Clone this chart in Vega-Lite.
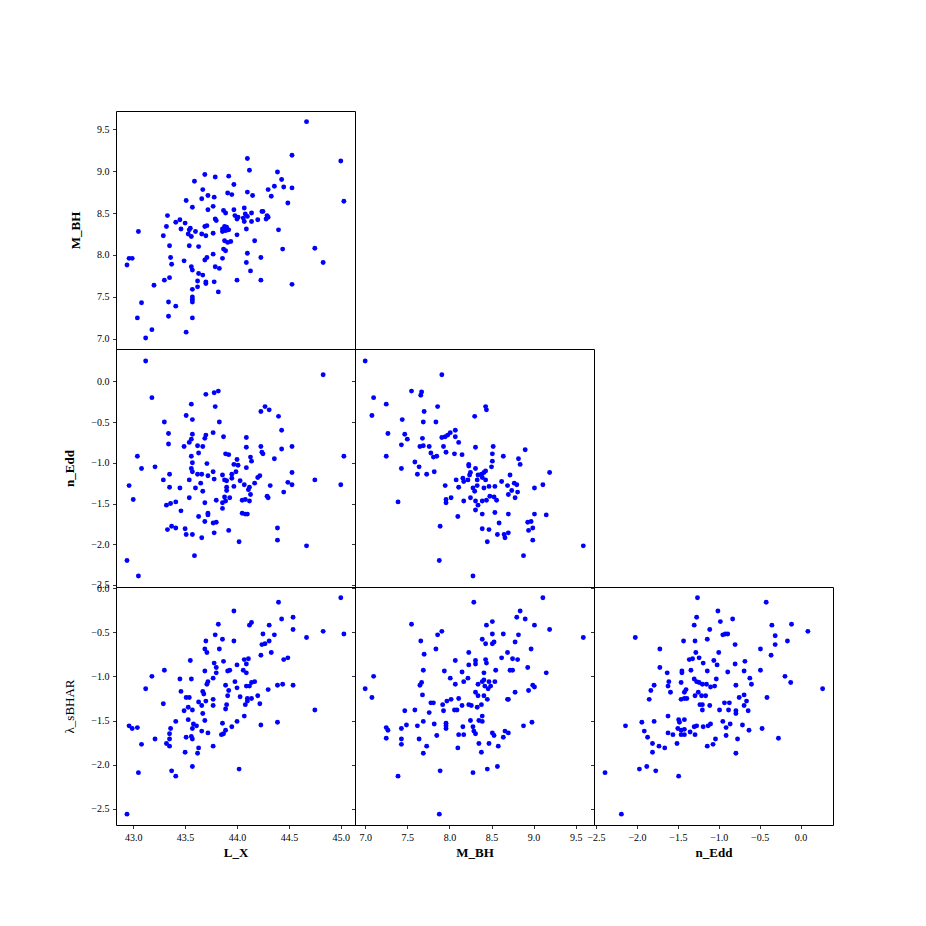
{
"$schema": "https://vega.github.io/schema/vega-lite/v6.json",
"background": "white",
"padding": {"left": 63, "top": 110, "right": 5, "bottom": 5},
"autosize": {"type": "pad"},
"spacing": 0,
"bounds": "flush",
"columns": 3,
"config": {
  "view": {"stroke": "black", "strokeWidth": 1},
  "concat": {"spacing": 0},
  "axis": {"labelFont": "Liberation Serif", "labelFontSize": 10, "labelColor": "black", "tickColor": "black", "tickSize": 3.5, "tickWidth": 0.8, "labelPadding": 3.5, "domain": false, "grid": false, "titleFont": "Liberation Serif", "titleFontSize": 13, "titleFontWeight": "bold", "titleColor": "black", "labelFlush": false, "labelOverlap": false, "labelBound": false, "format": ".1f"},
  "axisY": {"titlePadding": 14},
  "axisX": {"titlePadding": 4},
  "circle": {"color": "#0000ff", "size": 24, "opacity": 1}
},
"datasets": {
"lx_mbh": [{"L_X":44.67,"M_BH":9.59},{"L_X":44.53,"M_BH":9.19},{"L_X":45.0,"M_BH":9.12},{"L_X":45.03,"M_BH":8.64},{"L_X":44.1,"M_BH":9.15},{"L_X":44.12,"M_BH":9.01},{"L_X":44.39,"M_BH":8.99},{"L_X":44.43,"M_BH":8.9},{"L_X":44.45,"M_BH":8.81},{"L_X":44.53,"M_BH":8.8},{"L_X":44.36,"M_BH":8.82},{"L_X":44.3,"M_BH":8.78},{"L_X":44.33,"M_BH":8.7},{"L_X":44.49,"M_BH":8.62},{"L_X":43.69,"M_BH":8.96},{"L_X":43.79,"M_BH":8.93},{"L_X":43.92,"M_BH":8.94},{"L_X":43.97,"M_BH":8.84},{"L_X":43.59,"M_BH":8.88},{"L_X":43.67,"M_BH":8.78},{"L_X":43.91,"M_BH":8.74},{"L_X":43.95,"M_BH":8.72},{"L_X":44.1,"M_BH":8.75},{"L_X":44.15,"M_BH":8.71},{"L_X":43.72,"M_BH":8.71},{"L_X":43.78,"M_BH":8.69},{"L_X":43.66,"M_BH":8.67},{"L_X":43.51,"M_BH":8.65},{"L_X":43.57,"M_BH":8.57},{"L_X":43.77,"M_BH":8.58},{"L_X":43.72,"M_BH":8.54},{"L_X":43.33,"M_BH":8.47},{"L_X":43.87,"M_BH":8.53},{"L_X":43.89,"M_BH":8.5},{"L_X":43.97,"M_BH":8.54},{"L_X":44.07,"M_BH":8.56},{"L_X":44.14,"M_BH":8.5},{"L_X":44.24,"M_BH":8.52},{"L_X":44.25,"M_BH":8.52},{"L_X":44.29,"M_BH":8.47},{"L_X":44.3,"M_BH":8.45},{"L_X":44.28,"M_BH":8.43},{"L_X":44.2,"M_BH":8.42},{"L_X":44.14,"M_BH":8.4},{"L_X":44.1,"M_BH":8.46},{"L_X":44.08,"M_BH":8.49},{"L_X":44.06,"M_BH":8.44},{"L_X":44.01,"M_BH":8.45},{"L_X":43.98,"M_BH":8.47},{"L_X":44.0,"M_BH":8.43},{"L_X":44.07,"M_BH":8.4},{"L_X":43.79,"M_BH":8.43},{"L_X":43.8,"M_BH":8.41},{"L_X":43.45,"M_BH":8.42},{"L_X":43.41,"M_BH":8.39},{"L_X":43.5,"M_BH":8.38},{"L_X":43.32,"M_BH":8.34},{"L_X":43.46,"M_BH":8.31},{"L_X":43.55,"M_BH":8.32},{"L_X":43.54,"M_BH":8.3},{"L_X":43.69,"M_BH":8.34},{"L_X":43.71,"M_BH":8.35},{"L_X":43.6,"M_BH":8.28},{"L_X":43.05,"M_BH":8.28},{"L_X":43.29,"M_BH":8.23},{"L_X":43.53,"M_BH":8.25},{"L_X":43.56,"M_BH":8.22},{"L_X":43.66,"M_BH":8.25},{"L_X":43.7,"M_BH":8.23},{"L_X":43.77,"M_BH":8.26},{"L_X":43.86,"M_BH":8.31},{"L_X":43.88,"M_BH":8.34},{"L_X":43.9,"M_BH":8.33},{"L_X":43.92,"M_BH":8.3},{"L_X":43.89,"M_BH":8.29},{"L_X":43.86,"M_BH":8.28},{"L_X":44.09,"M_BH":8.31},{"L_X":44.0,"M_BH":8.24},{"L_X":44.4,"M_BH":8.3},{"L_X":43.88,"M_BH":8.17},{"L_X":43.91,"M_BH":8.15},{"L_X":43.94,"M_BH":8.16},{"L_X":44.17,"M_BH":8.17},{"L_X":43.35,"M_BH":8.11},{"L_X":43.54,"M_BH":8.11},{"L_X":43.63,"M_BH":8.1},{"L_X":43.87,"M_BH":8.07},{"L_X":43.89,"M_BH":8.05},{"L_X":44.44,"M_BH":8.07},{"L_X":44.75,"M_BH":8.08},{"L_X":44.1,"M_BH":8.02},{"L_X":43.77,"M_BH":8.01},{"L_X":43.36,"M_BH":7.97},{"L_X":43.71,"M_BH":7.97},{"L_X":43.69,"M_BH":7.94},{"L_X":43.86,"M_BH":7.96},{"L_X":44.23,"M_BH":7.97},{"L_X":42.96,"M_BH":7.96},{"L_X":42.99,"M_BH":7.96},{"L_X":42.94,"M_BH":7.88},{"L_X":43.37,"M_BH":7.89},{"L_X":43.49,"M_BH":7.93},{"L_X":44.83,"M_BH":7.91},{"L_X":44.09,"M_BH":7.91},{"L_X":43.56,"M_BH":7.86},{"L_X":43.57,"M_BH":7.82},{"L_X":43.79,"M_BH":7.86},{"L_X":43.83,"M_BH":7.84},{"L_X":44.13,"M_BH":7.81},{"L_X":43.63,"M_BH":7.78},{"L_X":43.67,"M_BH":7.76},{"L_X":43.35,"M_BH":7.73},{"L_X":43.3,"M_BH":7.7},{"L_X":43.62,"M_BH":7.69},{"L_X":43.7,"M_BH":7.68},{"L_X":43.7,"M_BH":7.66},{"L_X":43.78,"M_BH":7.68},{"L_X":44.0,"M_BH":7.7},{"L_X":44.23,"M_BH":7.7},{"L_X":44.53,"M_BH":7.65},{"L_X":43.2,"M_BH":7.64},{"L_X":43.62,"M_BH":7.62},{"L_X":43.57,"M_BH":7.59},{"L_X":43.82,"M_BH":7.56},{"L_X":43.57,"M_BH":7.5},{"L_X":43.57,"M_BH":7.47},{"L_X":43.57,"M_BH":7.44},{"L_X":43.08,"M_BH":7.43},{"L_X":43.34,"M_BH":7.44},{"L_X":43.41,"M_BH":7.39},{"L_X":43.34,"M_BH":7.27},{"L_X":43.04,"M_BH":7.25},{"L_X":43.57,"M_BH":7.25},{"L_X":43.18,"M_BH":7.11},{"L_X":43.51,"M_BH":7.08},{"L_X":43.12,"M_BH":7.01}],
"lx_nedd": [{"L_X":43.12,"n_Edd":0.25},{"L_X":44.83,"n_Edd":0.08},{"L_X":43.18,"n_Edd":-0.2},{"L_X":43.7,"n_Edd":-0.16},{"L_X":43.78,"n_Edd":-0.14},{"L_X":43.82,"n_Edd":-0.12},{"L_X":43.56,"n_Edd":-0.28},{"L_X":43.79,"n_Edd":-0.31},{"L_X":44.27,"n_Edd":-0.31},{"L_X":44.31,"n_Edd":-0.35},{"L_X":44.23,"n_Edd":-0.37},{"L_X":43.51,"n_Edd":-0.42},{"L_X":43.57,"n_Edd":-0.47},{"L_X":44.4,"n_Edd":-0.43},{"L_X":43.3,"n_Edd":-0.5},{"L_X":43.83,"n_Edd":-0.5},{"L_X":44.43,"n_Edd":-0.6},{"L_X":43.34,"n_Edd":-0.64},{"L_X":43.57,"n_Edd":-0.65},{"L_X":43.7,"n_Edd":-0.66},{"L_X":43.69,"n_Edd":-0.7},{"L_X":43.77,"n_Edd":-0.63},{"L_X":43.87,"n_Edd":-0.68},{"L_X":44.09,"n_Edd":-0.69},{"L_X":43.56,"n_Edd":-0.71},{"L_X":43.54,"n_Edd":-0.75},{"L_X":43.34,"n_Edd":-0.77},{"L_X":43.49,"n_Edd":-0.8},{"L_X":43.62,"n_Edd":-0.79},{"L_X":43.67,"n_Edd":-0.8},{"L_X":44.09,"n_Edd":-0.81},{"L_X":44.23,"n_Edd":-0.8},{"L_X":44.43,"n_Edd":-0.83},{"L_X":44.53,"n_Edd":-0.8},{"L_X":43.63,"n_Edd":-0.88},{"L_X":44.24,"n_Edd":-0.87},{"L_X":44.25,"n_Edd":-0.89},{"L_X":43.89,"n_Edd":-0.89},{"L_X":43.92,"n_Edd":-0.9},{"L_X":43.56,"n_Edd":-0.92},{"L_X":43.04,"n_Edd":-0.92},{"L_X":44.13,"n_Edd":-0.93},{"L_X":44.14,"n_Edd":-0.98},{"L_X":44.0,"n_Edd":-0.96},{"L_X":44.36,"n_Edd":-0.95},{"L_X":45.03,"n_Edd":-0.92},{"L_X":43.57,"n_Edd":-1.0},{"L_X":43.71,"n_Edd":-1.01},{"L_X":43.97,"n_Edd":-1.02},{"L_X":44.01,"n_Edd":-1.03},{"L_X":43.08,"n_Edd":-1.07},{"L_X":43.21,"n_Edd":-1.05},{"L_X":43.56,"n_Edd":-1.07},{"L_X":44.09,"n_Edd":-1.06},{"L_X":43.57,"n_Edd":-1.11},{"L_X":43.62,"n_Edd":-1.14},{"L_X":43.66,"n_Edd":-1.14},{"L_X":43.72,"n_Edd":-1.16},{"L_X":43.77,"n_Edd":-1.11},{"L_X":43.86,"n_Edd":-1.15},{"L_X":43.95,"n_Edd":-1.14},{"L_X":43.99,"n_Edd":-1.11},{"L_X":44.2,"n_Edd":-1.18},{"L_X":44.22,"n_Edd":-1.16},{"L_X":44.53,"n_Edd":-1.12},{"L_X":43.29,"n_Edd":-1.21},{"L_X":43.35,"n_Edd":-1.14},{"L_X":43.78,"n_Edd":-1.2},{"L_X":43.88,"n_Edd":-1.21},{"L_X":43.9,"n_Edd":-1.22},{"L_X":43.95,"n_Edd":-1.19},{"L_X":44.03,"n_Edd":-1.22},{"L_X":43.54,"n_Edd":-1.21},{"L_X":43.65,"n_Edd":-1.25},{"L_X":42.96,"n_Edd":-1.28},{"L_X":44.75,"n_Edd":-1.21},{"L_X":45.0,"n_Edd":-1.27},{"L_X":44.53,"n_Edd":-1.27},{"L_X":44.49,"n_Edd":-1.24},{"L_X":43.35,"n_Edd":-1.3},{"L_X":43.45,"n_Edd":-1.31},{"L_X":43.6,"n_Edd":-1.31},{"L_X":43.9,"n_Edd":-1.3},{"L_X":43.97,"n_Edd":-1.29},{"L_X":44.07,"n_Edd":-1.27},{"L_X":44.17,"n_Edd":-1.25},{"L_X":44.32,"n_Edd":-1.28},{"L_X":44.12,"n_Edd":-1.3},{"L_X":44.11,"n_Edd":-1.33},{"L_X":43.9,"n_Edd":-1.34},{"L_X":43.67,"n_Edd":-1.35},{"L_X":44.45,"n_Edd":-1.36},{"L_X":43.0,"n_Edd":-1.45},{"L_X":43.54,"n_Edd":-1.43},{"L_X":43.69,"n_Edd":-1.49},{"L_X":43.8,"n_Edd":-1.46},{"L_X":43.88,"n_Edd":-1.42},{"L_X":43.93,"n_Edd":-1.43},{"L_X":43.86,"n_Edd":-1.49},{"L_X":43.89,"n_Edd":-1.47},{"L_X":44.05,"n_Edd":-1.46},{"L_X":44.08,"n_Edd":-1.45},{"L_X":44.12,"n_Edd":-1.47},{"L_X":44.13,"n_Edd":-1.39},{"L_X":44.29,"n_Edd":-1.41},{"L_X":44.3,"n_Edd":-1.43},{"L_X":43.41,"n_Edd":-1.48},{"L_X":43.36,"n_Edd":-1.5},{"L_X":43.32,"n_Edd":-1.52},{"L_X":43.86,"n_Edd":-1.56},{"L_X":43.46,"n_Edd":-1.59},{"L_X":43.63,"n_Edd":-1.66},{"L_X":43.72,"n_Edd":-1.62},{"L_X":43.72,"n_Edd":-1.64},{"L_X":44.05,"n_Edd":-1.62},{"L_X":44.08,"n_Edd":-1.63},{"L_X":44.1,"n_Edd":-1.63},{"L_X":43.69,"n_Edd":-1.72},{"L_X":43.77,"n_Edd":-1.74},{"L_X":43.8,"n_Edd":-1.73},{"L_X":43.37,"n_Edd":-1.78},{"L_X":43.41,"n_Edd":-1.8},{"L_X":43.33,"n_Edd":-1.82},{"L_X":43.5,"n_Edd":-1.81},{"L_X":43.51,"n_Edd":-1.88},{"L_X":43.57,"n_Edd":-1.88},{"L_X":43.66,"n_Edd":-1.92},{"L_X":43.78,"n_Edd":-1.86},{"L_X":43.92,"n_Edd":-1.83},{"L_X":44.02,"n_Edd":-1.97},{"L_X":44.39,"n_Edd":-1.8},{"L_X":44.39,"n_Edd":-1.95},{"L_X":44.67,"n_Edd":-2.02},{"L_X":43.59,"n_Edd":-2.14},{"L_X":42.94,"n_Edd":-2.2},{"L_X":43.05,"n_Edd":-2.39}],
"mbh_nedd": [{"M_BH":7.0,"n_Edd":0.25},{"M_BH":7.91,"n_Edd":0.08},{"M_BH":7.1,"n_Edd":-0.2},{"M_BH":7.55,"n_Edd":-0.12},{"M_BH":7.67,"n_Edd":-0.13},{"M_BH":7.66,"n_Edd":-0.17},{"M_BH":7.25,"n_Edd":-0.28},{"M_BH":7.86,"n_Edd":-0.31},{"M_BH":8.43,"n_Edd":-0.31},{"M_BH":8.44,"n_Edd":-0.35},{"M_BH":7.08,"n_Edd":-0.42},{"M_BH":8.3,"n_Edd":-0.43},{"M_BH":7.7,"n_Edd":-0.37},{"M_BH":7.44,"n_Edd":-0.47},{"M_BH":7.69,"n_Edd":-0.5},{"M_BH":7.84,"n_Edd":-0.5},{"M_BH":7.27,"n_Edd":-0.64},{"M_BH":7.47,"n_Edd":-0.65},{"M_BH":7.5,"n_Edd":-0.71},{"M_BH":7.68,"n_Edd":-0.7},{"M_BH":7.43,"n_Edd":-0.78},{"M_BH":7.65,"n_Edd":-0.8},{"M_BH":7.69,"n_Edd":-0.79},{"M_BH":7.76,"n_Edd":-0.8},{"M_BH":7.91,"n_Edd":-0.69},{"M_BH":7.95,"n_Edd":-0.68},{"M_BH":7.98,"n_Edd":-0.66},{"M_BH":8.01,"n_Edd":-0.63},{"M_BH":8.07,"n_Edd":-0.6},{"M_BH":8.07,"n_Edd":-0.68},{"M_BH":8.11,"n_Edd":-0.75},{"M_BH":7.93,"n_Edd":-0.8},{"M_BH":7.96,"n_Edd":-0.87},{"M_BH":7.78,"n_Edd":-0.88},{"M_BH":7.81,"n_Edd":-0.93},{"M_BH":7.85,"n_Edd":-0.92},{"M_BH":8.06,"n_Edd":-0.89},{"M_BH":8.15,"n_Edd":-0.9},{"M_BH":8.31,"n_Edd":-0.81},{"M_BH":8.52,"n_Edd":-0.8},{"M_BH":8.51,"n_Edd":-0.89},{"M_BH":8.51,"n_Edd":-0.98},{"M_BH":8.64,"n_Edd":-0.92},{"M_BH":8.82,"n_Edd":-0.95},{"M_BH":8.9,"n_Edd":-0.84},{"M_BH":8.84,"n_Edd":-1.02},{"M_BH":7.25,"n_Edd":-0.92},{"M_BH":7.59,"n_Edd":-0.99},{"M_BH":7.64,"n_Edd":-1.05},{"M_BH":7.43,"n_Edd":-1.07},{"M_BH":7.62,"n_Edd":-1.14},{"M_BH":7.73,"n_Edd":-1.14},{"M_BH":7.82,"n_Edd":-1.11},{"M_BH":8.23,"n_Edd":-1.02},{"M_BH":8.23,"n_Edd":-1.04},{"M_BH":8.31,"n_Edd":-1.07},{"M_BH":8.25,"n_Edd":-1.12},{"M_BH":8.24,"n_Edd":-1.15},{"M_BH":8.34,"n_Edd":-1.15},{"M_BH":8.38,"n_Edd":-1.14},{"M_BH":8.41,"n_Edd":-1.12},{"M_BH":8.43,"n_Edd":-1.1},{"M_BH":8.5,"n_Edd":-1.05},{"M_BH":8.72,"n_Edd":-1.15},{"M_BH":9.19,"n_Edd":-1.12},{"M_BH":9.11,"n_Edd":-1.27},{"M_BH":9.01,"n_Edd":-1.31},{"M_BH":7.95,"n_Edd":-1.28},{"M_BH":8.08,"n_Edd":-1.21},{"M_BH":8.11,"n_Edd":-1.3},{"M_BH":8.16,"n_Edd":-1.19},{"M_BH":8.17,"n_Edd":-1.23},{"M_BH":8.22,"n_Edd":-1.21},{"M_BH":8.28,"n_Edd":-1.31},{"M_BH":8.3,"n_Edd":-1.35},{"M_BH":8.33,"n_Edd":-1.28},{"M_BH":8.33,"n_Edd":-1.21},{"M_BH":8.39,"n_Edd":-1.18},{"M_BH":8.43,"n_Edd":-1.21},{"M_BH":8.41,"n_Edd":-1.31},{"M_BH":8.47,"n_Edd":-1.29},{"M_BH":8.54,"n_Edd":-1.29},{"M_BH":8.62,"n_Edd":-1.23},{"M_BH":8.69,"n_Edd":-1.28},{"M_BH":8.77,"n_Edd":-1.25},{"M_BH":8.8,"n_Edd":-1.27},{"M_BH":8.74,"n_Edd":-1.34},{"M_BH":8.81,"n_Edd":-1.36},{"M_BH":8.7,"n_Edd":-1.39},{"M_BH":8.78,"n_Edd":-1.43},{"M_BH":7.96,"n_Edd":-1.45},{"M_BH":8.02,"n_Edd":-1.43},{"M_BH":7.96,"n_Edd":-1.49},{"M_BH":7.39,"n_Edd":-1.48},{"M_BH":8.17,"n_Edd":-1.47},{"M_BH":8.25,"n_Edd":-1.43},{"M_BH":8.31,"n_Edd":-1.47},{"M_BH":8.34,"n_Edd":-1.52},{"M_BH":8.31,"n_Edd":-1.58},{"M_BH":8.39,"n_Edd":-1.47},{"M_BH":8.44,"n_Edd":-1.46},{"M_BH":8.48,"n_Edd":-1.41},{"M_BH":8.53,"n_Edd":-1.42},{"M_BH":8.56,"n_Edd":-1.46},{"M_BH":8.39,"n_Edd":-1.63},{"M_BH":8.54,"n_Edd":-1.61},{"M_BH":8.7,"n_Edd":-1.63},{"M_BH":9.01,"n_Edd":-1.63},{"M_BH":9.15,"n_Edd":-1.64},{"M_BH":8.1,"n_Edd":-1.66},{"M_BH":8.59,"n_Edd":-1.74},{"M_BH":8.93,"n_Edd":-1.73},{"M_BH":8.97,"n_Edd":-1.72},{"M_BH":8.99,"n_Edd":-1.8},{"M_BH":8.94,"n_Edd":-1.83},{"M_BH":8.39,"n_Edd":-1.81},{"M_BH":8.47,"n_Edd":-1.82},{"M_BH":7.89,"n_Edd":-1.78},{"M_BH":8.57,"n_Edd":-1.88},{"M_BH":8.65,"n_Edd":-1.88},{"M_BH":8.7,"n_Edd":-1.86},{"M_BH":8.66,"n_Edd":-1.92},{"M_BH":8.45,"n_Edd":-1.97},{"M_BH":8.99,"n_Edd":-1.95},{"M_BH":9.59,"n_Edd":-2.02},{"M_BH":8.88,"n_Edd":-2.14},{"M_BH":7.88,"n_Edd":-2.2},{"M_BH":8.28,"n_Edd":-2.39}],
"lx_lam": [{"L_X":45.0,"lam":-0.11},{"L_X":44.4,"lam":-0.16},{"L_X":43.97,"lam":-0.26},{"L_X":44.54,"lam":-0.33},{"L_X":44.43,"lam":-0.35},{"L_X":43.82,"lam":-0.41},{"L_X":44.14,"lam":-0.39},{"L_X":44.12,"lam":-0.42},{"L_X":44.31,"lam":-0.42},{"L_X":44.54,"lam":-0.47},{"L_X":44.83,"lam":-0.49},{"L_X":45.03,"lam":-0.52},{"L_X":44.25,"lam":-0.52},{"L_X":44.36,"lam":-0.53},{"L_X":44.67,"lam":-0.56},{"L_X":43.79,"lam":-0.53},{"L_X":43.86,"lam":-0.58},{"L_X":43.7,"lam":-0.6},{"L_X":43.97,"lam":-0.6},{"L_X":44.31,"lam":-0.6},{"L_X":44.27,"lam":-0.63},{"L_X":44.24,"lam":-0.64},{"L_X":43.69,"lam":-0.69},{"L_X":43.83,"lam":-0.69},{"L_X":43.71,"lam":-0.73},{"L_X":44.33,"lam":-0.73},{"L_X":44.23,"lam":-0.76},{"L_X":44.45,"lam":-0.81},{"L_X":44.49,"lam":-0.79},{"L_X":43.55,"lam":-0.82},{"L_X":44.07,"lam":-0.81},{"L_X":44.11,"lam":-0.8},{"L_X":43.78,"lam":-0.85},{"L_X":43.87,"lam":-0.83},{"L_X":44.0,"lam":-0.87},{"L_X":44.09,"lam":-0.86},{"L_X":43.8,"lam":-0.9},{"L_X":43.3,"lam":-0.93},{"L_X":43.69,"lam":-0.94},{"L_X":43.91,"lam":-0.94},{"L_X":43.93,"lam":-0.93},{"L_X":43.8,"lam":-0.96},{"L_X":44.06,"lam":-0.93},{"L_X":44.09,"lam":-0.96},{"L_X":43.18,"lam":-1.0},{"L_X":43.45,"lam":-1.03},{"L_X":43.56,"lam":-1.03},{"L_X":43.77,"lam":-1.02},{"L_X":43.72,"lam":-1.06},{"L_X":43.71,"lam":-1.09},{"L_X":43.98,"lam":-1.06},{"L_X":43.89,"lam":-1.1},{"L_X":44.0,"lam":-1.13},{"L_X":44.09,"lam":-1.11},{"L_X":44.12,"lam":-1.11},{"L_X":44.14,"lam":-1.07},{"L_X":44.17,"lam":-1.06},{"L_X":44.39,"lam":-1.1},{"L_X":44.44,"lam":-1.09},{"L_X":44.54,"lam":-1.1},{"L_X":43.12,"lam":-1.14},{"L_X":44.3,"lam":-1.15},{"L_X":43.67,"lam":-1.17},{"L_X":43.68,"lam":-1.2},{"L_X":43.46,"lam":-1.17},{"L_X":43.92,"lam":-1.16},{"L_X":43.91,"lam":-1.22},{"L_X":43.51,"lam":-1.24},{"L_X":43.54,"lam":-1.24},{"L_X":44.03,"lam":-1.23},{"L_X":44.1,"lam":-1.25},{"L_X":44.14,"lam":-1.25},{"L_X":44.1,"lam":-1.28},{"L_X":44.2,"lam":-1.22},{"L_X":43.7,"lam":-1.28},{"L_X":43.77,"lam":-1.26},{"L_X":43.29,"lam":-1.31},{"L_X":43.63,"lam":-1.29},{"L_X":43.66,"lam":-1.33},{"L_X":43.53,"lam":-1.35},{"L_X":43.57,"lam":-1.38},{"L_X":43.49,"lam":-1.39},{"L_X":43.77,"lam":-1.33},{"L_X":43.9,"lam":-1.32},{"L_X":43.89,"lam":-1.37},{"L_X":44.08,"lam":-1.32},{"L_X":44.22,"lam":-1.31},{"L_X":44.75,"lam":-1.38},{"L_X":43.67,"lam":-1.42},{"L_X":44.07,"lam":-1.45},{"L_X":43.41,"lam":-1.51},{"L_X":43.53,"lam":-1.49},{"L_X":43.69,"lam":-1.5},{"L_X":43.86,"lam":-1.53},{"L_X":44.0,"lam":-1.51},{"L_X":44.39,"lam":-1.52},{"L_X":44.23,"lam":-1.55},{"L_X":42.96,"lam":-1.56},{"L_X":42.99,"lam":-1.59},{"L_X":43.04,"lam":-1.58},{"L_X":43.36,"lam":-1.59},{"L_X":43.58,"lam":-1.54},{"L_X":43.61,"lam":-1.56},{"L_X":43.57,"lam":-1.59},{"L_X":43.66,"lam":-1.62},{"L_X":43.72,"lam":-1.64},{"L_X":43.95,"lam":-1.57},{"L_X":43.89,"lam":-1.61},{"L_X":43.87,"lam":-1.65},{"L_X":43.85,"lam":-1.66},{"L_X":43.35,"lam":-1.65},{"L_X":43.35,"lam":-1.71},{"L_X":43.56,"lam":-1.68},{"L_X":43.57,"lam":-1.71},{"L_X":43.51,"lam":-1.69},{"L_X":43.21,"lam":-1.71},{"L_X":43.32,"lam":-1.76},{"L_X":43.35,"lam":-1.79},{"L_X":43.08,"lam":-1.77},{"L_X":43.77,"lam":-1.79},{"L_X":43.63,"lam":-1.81},{"L_X":43.5,"lam":-1.86},{"L_X":43.62,"lam":-1.87},{"L_X":43.57,"lam":-2.02},{"L_X":44.02,"lam":-2.05},{"L_X":43.05,"lam":-2.09},{"L_X":43.37,"lam":-2.07},{"L_X":43.41,"lam":-2.13},{"L_X":42.94,"lam":-2.56}],
"mbh_lam": [{"M_BH":9.11,"lam":-0.11},{"M_BH":8.29,"lam":-0.16},{"M_BH":8.84,"lam":-0.26},{"M_BH":8.8,"lam":-0.33},{"M_BH":8.9,"lam":-0.35},{"M_BH":7.55,"lam":-0.41},{"M_BH":8.51,"lam":-0.38},{"M_BH":8.44,"lam":-0.42},{"M_BH":9.01,"lam":-0.42},{"M_BH":9.19,"lam":-0.47},{"M_BH":9.59,"lam":-0.56},{"M_BH":7.91,"lam":-0.49},{"M_BH":7.86,"lam":-0.53},{"M_BH":8.51,"lam":-0.52},{"M_BH":8.64,"lam":-0.52},{"M_BH":8.82,"lam":-0.53},{"M_BH":7.66,"lam":-0.6},{"M_BH":8.39,"lam":-0.58},{"M_BH":8.43,"lam":-0.63},{"M_BH":8.53,"lam":-0.61},{"M_BH":8.51,"lam":-0.63},{"M_BH":8.78,"lam":-0.61},{"M_BH":7.84,"lam":-0.69},{"M_BH":7.7,"lam":-0.75},{"M_BH":8.23,"lam":-0.73},{"M_BH":8.97,"lam":-0.69},{"M_BH":8.69,"lam":-0.73},{"M_BH":8.62,"lam":-0.79},{"M_BH":8.75,"lam":-0.8},{"M_BH":8.81,"lam":-0.81},{"M_BH":8.07,"lam":-0.82},{"M_BH":8.31,"lam":-0.82},{"M_BH":8.31,"lam":-0.86},{"M_BH":8.23,"lam":-0.87},{"M_BH":8.43,"lam":-0.81},{"M_BH":8.44,"lam":-0.85},{"M_BH":8.93,"lam":-0.9},{"M_BH":7.69,"lam":-0.93},{"M_BH":7.94,"lam":-0.94},{"M_BH":8.15,"lam":-0.95},{"M_BH":8.41,"lam":-0.96},{"M_BH":8.55,"lam":-0.93},{"M_BH":8.72,"lam":-0.93},{"M_BH":8.75,"lam":-0.93},{"M_BH":9.15,"lam":-0.96},{"M_BH":7.1,"lam":-1.0},{"M_BH":8.01,"lam":-1.02},{"M_BH":8.22,"lam":-1.02},{"M_BH":8.17,"lam":-1.06},{"M_BH":8.07,"lam":-1.09},{"M_BH":7.67,"lam":-1.07},{"M_BH":7.65,"lam":-1.1},{"M_BH":8.41,"lam":-1.04},{"M_BH":8.39,"lam":-1.06},{"M_BH":8.34,"lam":-1.09},{"M_BH":8.47,"lam":-1.06},{"M_BH":8.54,"lam":-1.06},{"M_BH":8.42,"lam":-1.11},{"M_BH":8.49,"lam":-1.11},{"M_BH":8.46,"lam":-1.14},{"M_BH":8.99,"lam":-1.1},{"M_BH":9.01,"lam":-1.12},{"M_BH":8.94,"lam":-1.16},{"M_BH":8.78,"lam":-1.18},{"M_BH":7.0,"lam":-1.14},{"M_BH":7.08,"lam":-1.24},{"M_BH":7.68,"lam":-1.21},{"M_BH":8.31,"lam":-1.18},{"M_BH":8.34,"lam":-1.22},{"M_BH":8.41,"lam":-1.22},{"M_BH":8.45,"lam":-1.26},{"M_BH":8.7,"lam":-1.26},{"M_BH":8.69,"lam":-1.26},{"M_BH":7.78,"lam":-1.3},{"M_BH":7.81,"lam":-1.3},{"M_BH":7.97,"lam":-1.28},{"M_BH":8.02,"lam":-1.26},{"M_BH":8.11,"lam":-1.25},{"M_BH":7.92,"lam":-1.32},{"M_BH":8.15,"lam":-1.33},{"M_BH":8.23,"lam":-1.32},{"M_BH":8.26,"lam":-1.33},{"M_BH":8.33,"lam":-1.35},{"M_BH":8.38,"lam":-1.32},{"M_BH":7.47,"lam":-1.39},{"M_BH":7.59,"lam":-1.38},{"M_BH":7.76,"lam":-1.41},{"M_BH":7.93,"lam":-1.39},{"M_BH":8.06,"lam":-1.38},{"M_BH":8.09,"lam":-1.38},{"M_BH":8.39,"lam":-1.45},{"M_BH":8.35,"lam":-1.5},{"M_BH":8.39,"lam":-1.51},{"M_BH":8.25,"lam":-1.5},{"M_BH":7.69,"lam":-1.51},{"M_BH":7.82,"lam":-1.54},{"M_BH":7.96,"lam":-1.53},{"M_BH":7.96,"lam":-1.56},{"M_BH":7.96,"lam":-1.59},{"M_BH":7.49,"lam":-1.55},{"M_BH":7.62,"lam":-1.56},{"M_BH":7.25,"lam":-1.58},{"M_BH":7.27,"lam":-1.61},{"M_BH":7.43,"lam":-1.59},{"M_BH":8.16,"lam":-1.57},{"M_BH":8.28,"lam":-1.57},{"M_BH":8.29,"lam":-1.62},{"M_BH":8.31,"lam":-1.65},{"M_BH":8.11,"lam":-1.66},{"M_BH":8.17,"lam":-1.66},{"M_BH":8.51,"lam":-1.64},{"M_BH":8.53,"lam":-1.67},{"M_BH":8.66,"lam":-1.62},{"M_BH":8.7,"lam":-1.64},{"M_BH":8.64,"lam":-1.69},{"M_BH":8.88,"lam":-1.56},{"M_BH":8.98,"lam":-1.52},{"M_BH":7.25,"lam":-1.7},{"M_BH":7.43,"lam":-1.71},{"M_BH":7.64,"lam":-1.71},{"M_BH":7.85,"lam":-1.67},{"M_BH":7.43,"lam":-1.77},{"M_BH":7.73,"lam":-1.79},{"M_BH":7.69,"lam":-1.87},{"M_BH":8.1,"lam":-1.81},{"M_BH":8.35,"lam":-1.76},{"M_BH":8.47,"lam":-1.76},{"M_BH":8.58,"lam":-1.79},{"M_BH":8.38,"lam":-1.86},{"M_BH":8.57,"lam":-2.02},{"M_BH":8.45,"lam":-2.05},{"M_BH":8.28,"lam":-2.09},{"M_BH":7.89,"lam":-2.07},{"M_BH":7.39,"lam":-2.13},{"M_BH":7.88,"lam":-2.56}],
"nedd_lam": [{"n_Edd":-1.26,"lam":-0.11},{"n_Edd":-0.42,"lam":-0.16},{"n_Edd":-1.01,"lam":-0.26},{"n_Edd":-1.27,"lam":-0.33},{"n_Edd":-0.83,"lam":-0.35},{"n_Edd":-0.98,"lam":-0.38},{"n_Edd":-1.3,"lam":-0.42},{"n_Edd":-0.35,"lam":-0.42},{"n_Edd":-0.11,"lam":-0.41},{"n_Edd":-1.11,"lam":-0.47},{"n_Edd":-0.95,"lam":-0.53},{"n_Edd":-0.92,"lam":-0.52},{"n_Edd":-0.89,"lam":-0.52},{"n_Edd":-0.31,"lam":-0.54},{"n_Edd":0.09,"lam":-0.49},{"n_Edd":-2.02,"lam":-0.56},{"n_Edd":-1.43,"lam":-0.6},{"n_Edd":-1.29,"lam":-0.6},{"n_Edd":-1.14,"lam":-0.58},{"n_Edd":-0.8,"lam":-0.64},{"n_Edd":-0.31,"lam":-0.64},{"n_Edd":-0.16,"lam":-0.6},{"n_Edd":-1.72,"lam":-0.69},{"n_Edd":-1.28,"lam":-0.73},{"n_Edd":-1.0,"lam":-0.73},{"n_Edd":-0.49,"lam":-0.69},{"n_Edd":-0.36,"lam":-0.76},{"n_Edd":-1.36,"lam":-0.81},{"n_Edd":-1.32,"lam":-0.8},{"n_Edd":-1.24,"lam":-0.79},{"n_Edd":-1.19,"lam":-0.85},{"n_Edd":-1.06,"lam":-0.82},{"n_Edd":-1.02,"lam":-0.87},{"n_Edd":-0.8,"lam":-0.86},{"n_Edd":-0.68,"lam":-0.83},{"n_Edd":-1.72,"lam":-0.9},{"n_Edd":-1.63,"lam":-0.96},{"n_Edd":-1.45,"lam":-0.96},{"n_Edd":-1.45,"lam":-0.94},{"n_Edd":-1.34,"lam":-0.93},{"n_Edd":-1.14,"lam":-0.94},{"n_Edd":-0.89,"lam":-0.95},{"n_Edd":-0.69,"lam":-0.94},{"n_Edd":-0.49,"lam":-0.93},{"n_Edd":-0.19,"lam":-1.0},{"n_Edd":-0.12,"lam":-1.07},{"n_Edd":0.27,"lam":-1.14},{"n_Edd":-1.61,"lam":-1.06},{"n_Edd":-1.62,"lam":-1.11},{"n_Edd":-1.79,"lam":-1.1},{"n_Edd":-1.83,"lam":-1.16},{"n_Edd":-1.59,"lam":-1.18},{"n_Edd":-1.46,"lam":-1.07},{"n_Edd":-1.4,"lam":-1.15},{"n_Edd":-1.42,"lam":-1.18},{"n_Edd":-1.3,"lam":-1.03},{"n_Edd":-1.27,"lam":-1.06},{"n_Edd":-1.24,"lam":-1.07},{"n_Edd":-1.2,"lam":-1.09},{"n_Edd":-1.15,"lam":-1.09},{"n_Edd":-1.1,"lam":-1.12},{"n_Edd":-1.05,"lam":-1.11},{"n_Edd":-1.03,"lam":-1.03},{"n_Edd":-0.79,"lam":-1.1},{"n_Edd":-0.62,"lam":-1.02},{"n_Edd":-0.6,"lam":-1.09},{"n_Edd":-1.85,"lam":-1.26},{"n_Edd":-1.46,"lam":-1.26},{"n_Edd":-1.42,"lam":-1.25},{"n_Edd":-1.39,"lam":-1.25},{"n_Edd":-1.25,"lam":-1.18},{"n_Edd":-1.29,"lam":-1.22},{"n_Edd":-1.21,"lam":-1.22},{"n_Edd":-1.16,"lam":-1.22},{"n_Edd":-1.23,"lam":-1.32},{"n_Edd":-1.2,"lam":-1.32},{"n_Edd":-1.2,"lam":-1.38},{"n_Edd":-1.11,"lam":-1.33},{"n_Edd":-0.75,"lam":-1.24},{"n_Edd":-0.69,"lam":-1.21},{"n_Edd":-0.66,"lam":-1.28},{"n_Edd":-0.69,"lam":-1.33},{"n_Edd":-0.41,"lam":-1.24},{"n_Edd":-0.93,"lam":-1.3},{"n_Edd":-0.87,"lam":-1.3},{"n_Edd":-0.99,"lam":-1.38},{"n_Edd":-0.88,"lam":-1.38},{"n_Edd":-0.79,"lam":-1.39},{"n_Edd":-0.79,"lam":-1.42},{"n_Edd":-0.64,"lam":-1.39},{"n_Edd":-1.62,"lam":-1.45},{"n_Edd":-1.94,"lam":-1.52},{"n_Edd":-1.79,"lam":-1.51},{"n_Edd":-2.14,"lam":-1.56},{"n_Edd":-1.91,"lam":-1.62},{"n_Edd":-1.87,"lam":-1.69},{"n_Edd":-1.81,"lam":-1.76},{"n_Edd":-1.81,"lam":-1.86},{"n_Edd":-1.73,"lam":-1.79},{"n_Edd":-1.66,"lam":-1.81},{"n_Edd":-1.62,"lam":-1.64},{"n_Edd":-1.56,"lam":-1.66},{"n_Edd":-1.51,"lam":-1.76},{"n_Edd":-1.49,"lam":-1.49},{"n_Edd":-1.42,"lam":-1.49},{"n_Edd":-1.48,"lam":-1.52},{"n_Edd":-1.5,"lam":-1.59},{"n_Edd":-1.46,"lam":-1.61},{"n_Edd":-1.42,"lam":-1.6},{"n_Edd":-1.46,"lam":-1.66},{"n_Edd":-1.42,"lam":-1.66},{"n_Edd":-1.35,"lam":-1.63},{"n_Edd":-1.29,"lam":-1.66},{"n_Edd":-1.3,"lam":-1.57},{"n_Edd":-1.27,"lam":-1.56},{"n_Edd":-1.19,"lam":-1.57},{"n_Edd":-1.13,"lam":-1.56},{"n_Edd":-1.1,"lam":-1.54},{"n_Edd":-1.14,"lam":-1.79},{"n_Edd":-1.07,"lam":-1.77},{"n_Edd":-1.04,"lam":-1.71},{"n_Edd":-0.95,"lam":-1.51},{"n_Edd":-0.91,"lam":-1.58},{"n_Edd":-0.91,"lam":-1.67},{"n_Edd":-0.86,"lam":-1.54},{"n_Edd":-0.77,"lam":-1.71},{"n_Edd":-0.79,"lam":-1.87},{"n_Edd":-0.71,"lam":-1.55},{"n_Edd":-0.63,"lam":-1.61},{"n_Edd":-0.47,"lam":-1.59},{"n_Edd":-0.27,"lam":-1.7},{"n_Edd":-1.97,"lam":-2.05},{"n_Edd":-1.88,"lam":-2.02},{"n_Edd":-1.77,"lam":-2.07},{"n_Edd":-1.49,"lam":-2.13},{"n_Edd":-2.39,"lam":-2.09},{"n_Edd":-2.19,"lam":-2.56}],
"empty": []
},
"concat": [
    {"width": 239, "height": 238, "data": {"name": "lx_mbh"}, "mark": {"type": "circle"},
     "encoding": {
       "x": {"field": "L_X", "type": "quantitative", "scale": {"domain": [42.834, 45.137], "nice": false, "zero": false}, "axis": null},
       "y": {"field": "M_BH", "type": "quantitative", "scale": {"domain": [6.879, 9.717], "nice": false, "zero": false}, "axis": {"values": [7.0, 7.5, 8.0, 8.5, 9.0, 9.5], "title": "M_BH"}}}},
    {"width": 239, "height": 238, "data": {"name": "empty"}, "mark": {"type": "circle"}, "encoding": {}, "view": {"stroke": null}},
    {"width": 239, "height": 238, "data": {"name": "empty"}, "mark": {"type": "circle"}, "encoding": {}, "view": {"stroke": null}},
    {"width": 239, "height": 238, "data": {"name": "lx_nedd"}, "mark": {"type": "circle"},
     "encoding": {
       "x": {"field": "L_X", "type": "quantitative", "scale": {"domain": [42.834, 45.137], "nice": false, "zero": false}, "axis": null},
       "y": {"field": "n_Edd", "type": "quantitative", "scale": {"domain": [-2.525, 0.397], "nice": false, "zero": false}, "axis": {"values": [-2.5, -2.0, -1.5, -1.0, -0.5, 0.0], "title": "n_Edd"}}}},
    {"width": 239, "height": 238, "data": {"name": "mbh_nedd"}, "mark": {"type": "circle"},
     "encoding": {
       "x": {"field": "M_BH", "type": "quantitative", "scale": {"domain": [6.879, 9.717], "nice": false, "zero": false}, "axis": null},
       "y": {"field": "n_Edd", "type": "quantitative", "scale": {"domain": [-2.525, 0.397], "nice": false, "zero": false}, "axis": {"values": [-2.5, -2.0, -1.5, -1.0, -0.5, 0.0], "labels": false, "title": null}}}},
    {"width": 239, "height": 238, "data": {"name": "empty"}, "mark": {"type": "circle"}, "encoding": {}, "view": {"stroke": null}},
    {"width": 239, "height": 238, "data": {"name": "lx_lam"}, "mark": {"type": "circle"},
     "encoding": {
       "x": {"field": "L_X", "type": "quantitative", "scale": {"domain": [42.834, 45.137], "nice": false, "zero": false}, "axis": {"values": [43.0, 43.5, 44.0, 44.5, 45.0], "title": "L_X"}},
       "y": {"field": "lam", "type": "quantitative", "scale": {"domain": [-2.683, 0.012], "nice": false, "zero": false}, "axis": {"values": [-2.5, -2.0, -1.5, -1.0, -0.5, 0.0], "title": "λ_sBHAR", "titleFontWeight": "normal"}}}},
    {"width": 239, "height": 238, "data": {"name": "mbh_lam"}, "mark": {"type": "circle"},
     "encoding": {
       "x": {"field": "M_BH", "type": "quantitative", "scale": {"domain": [6.879, 9.717], "nice": false, "zero": false}, "axis": {"values": [7.0, 7.5, 8.0, 8.5, 9.0, 9.5], "title": "M_BH"}},
       "y": {"field": "lam", "type": "quantitative", "scale": {"domain": [-2.683, 0.012], "nice": false, "zero": false}, "axis": {"values": [-2.5, -2.0, -1.5, -1.0, -0.5, 0.0], "labels": false, "title": null}}}},
    {"width": 239, "height": 238, "data": {"name": "nedd_lam"}, "mark": {"type": "circle"},
     "encoding": {
       "x": {"field": "n_Edd", "type": "quantitative", "scale": {"domain": [-2.525, 0.397], "nice": false, "zero": false}, "axis": {"values": [-2.5, -2.0, -1.5, -1.0, -0.5, 0.0], "title": "n_Edd"}},
       "y": {"field": "lam", "type": "quantitative", "scale": {"domain": [-2.683, 0.012], "nice": false, "zero": false}, "axis": {"values": [-2.5, -2.0, -1.5, -1.0, -0.5, 0.0], "labels": false, "title": null}}}}
]
}
